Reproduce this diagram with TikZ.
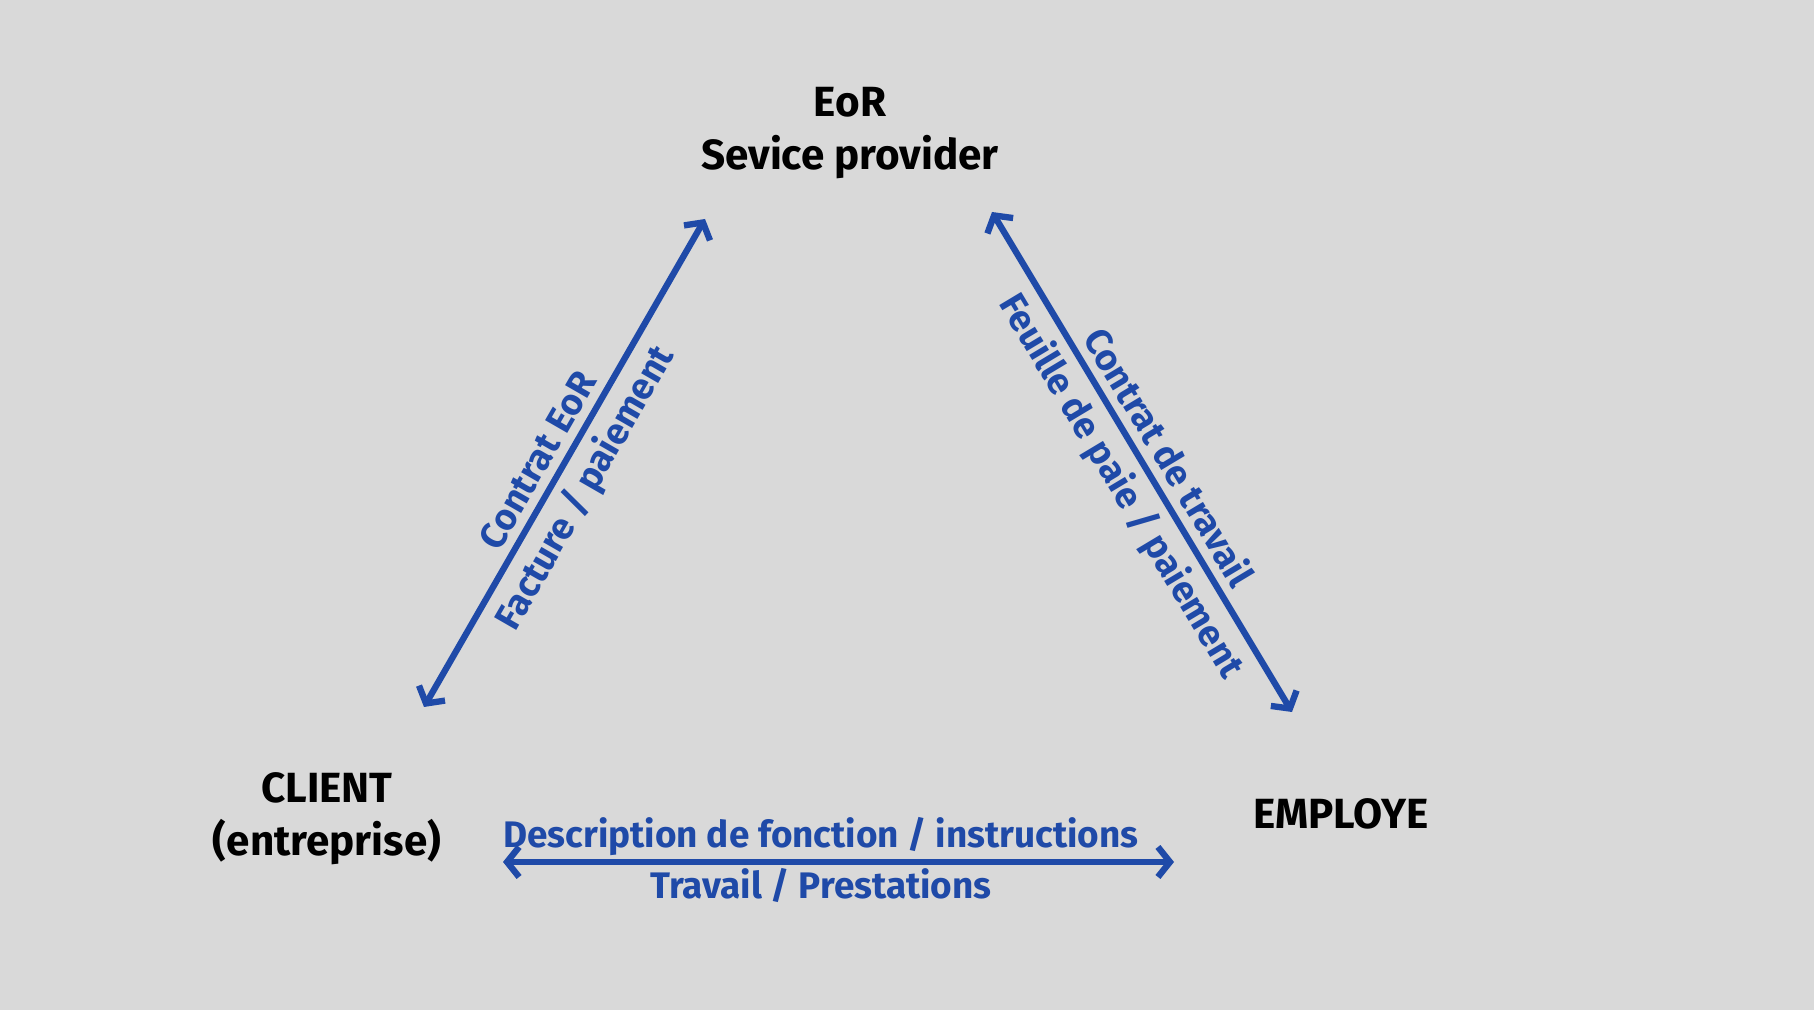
\documentclass[tikz,border=0pt]{standalone}
\usepackage{fontspec}
\setmainfont{Fira Sans}
\usetikzlibrary{arrows.meta}

\definecolor{eorblue}{HTML}{1F4AA8}
\definecolor{bggray}{HTML}{D9D9D9}

\tikzset{
  party/.style={font=\bfseries\fontsize{12}{15}\selectfont, align=center},
  flow/.style={eorblue, line width=1.8pt, line cap=round,
    {Straight Barb[length=1.2mm, width=3mm]}-{Straight Barb[length=1.2mm, width=3mm]}},
  flowlabel/.style={text=eorblue, font=\bfseries\fontsize{10.5}{12}\selectfont,
    sloped, inner sep=2.4pt}
}

\begin{document}
\begin{tikzpicture}[x=0.01cm, y=-0.01cm]
    % Background
    \fill [bggray] (0, 0) rectangle (1814, 1010);

    % The three parties
    \node [party] (eor) at (850, 133) {EoR\\Sevice provider};
    \node [party] (client) at (327, 819) {CLIENT\\(entreprise)};
    \node [party] (employe) at (1341, 814) {EMPLOYE};

    % Arrow ends
    \coordinate (client-eor) at (424, 707);
    \coordinate (eor-client) at (705, 219);
    \coordinate (eor-employe) at (992, 212);
    \coordinate (employe-eor) at (1292, 712);
    \coordinate (client-employe) at (503, 862);
    \coordinate (employe-client) at (1174, 862);

    % Client <-> EoR
    \draw [flow] (client-eor) -- (eor-client)
          node [flowlabel, above, pos=0.48] {Contrat EoR}
          node [flowlabel, below, pos=0.48] {Facture / paiement};

    % EoR <-> Employe
    \draw [flow] (eor-employe) -- (employe-eor)
          node [flowlabel, above, pos=0.517] {Contrat de travail}
          node [flowlabel, below, pos=0.517] {Feuille de paie / paiement};

    % Client <-> Employe
    \draw [flow] (client-employe) -- (employe-client)
          node [flowlabel, above, pos=0.474, inner sep=0.8pt] {Description de fonction / instructions}
          node [flowlabel, below, pos=0.474, inner sep=0.8pt] {Travail / Prestations};
\end{tikzpicture}
\end{document}
